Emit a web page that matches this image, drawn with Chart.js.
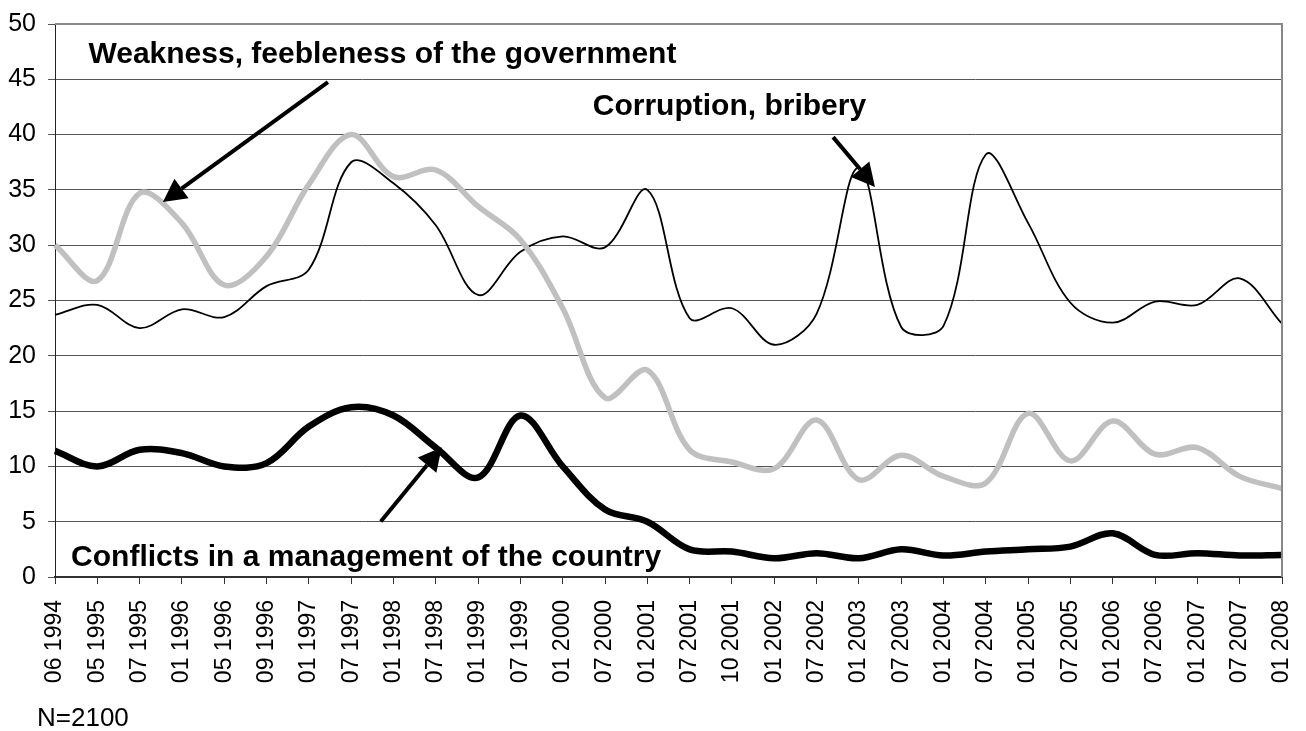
<!DOCTYPE html>
<html>
<head>
<meta charset="utf-8">
<script src="https://cdn.jsdelivr.net/npm/chart.js@4.4.0/dist/chart.umd.min.js"></script>
<style>
  body { margin: 0; background: #fff; }
  #wrap { width: 1306px; height: 731px; position: relative; }
</style>
</head>
<body>
<div id="wrap"><canvas id="chart"></canvas></div>
<script>
// survey waves (category axis)
let categories = ['06 1994', '05 1995', '07 1995', '01 1996', '05 1996', '09 1996', '01 1997', '07 1997',
  '01 1998', '07 1998', '01 1999', '07 1999', '01 2000', '07 2000', '01 2001', '07 2001', '10 2001',
  '01 2002', '07 2002', '01 2003', '07 2003', '01 2004', '07 2004', '01 2005', '07 2005', '01 2006',
  '07 2006', '01 2007', '07 2007', '01 2008'];

// % of respondents
let weakness = [30, 26.8, 34.7, 32, 26.4, 29, 35.5, 40, 36.2, 36.8, 33.5, 30.5, 24.3, 16.2, 18.7,
  11.5, 10.4, 9.8, 14.2, 8.8, 11, 9.1, 8.5, 14.8, 10.5, 14.1, 11.1, 11.7, 9.1, 8];
let corruption = [23.7, 24.6, 22.5, 24.2, 23.5, 26.3, 27.8, 37.5, 35.6, 31.8, 25.5, 29.4, 30.8, 29.8, 35,
  23.4, 24.3, 21, 23.8, 37, 22.6, 22.7, 38.2, 32, 24.8, 23, 24.9, 24.6, 27, 22.9];
let conflicts = [11.4, 10, 11.5, 11.2, 10, 10.3, 13.6, 15.35, 14.6, 11.7, 9, 14.6, 10, 6.1, 5,
  2.5, 2.3, 1.7, 2.15, 1.7, 2.5, 1.95, 2.3, 2.5, 2.75, 3.95, 2, 2.15, 1.95, 2];

let yMin = 0, yMax = 50, yStep = 5;

// callout labels, positions in data units (x = category index, y = value)
let callouts = [
  { text: 'Weakness, feebleness of the government', at: [0.79, 46.45], from: [6.45, 44.75], to: [2.55, 33.9] },
  { text: 'Corruption, bribery', at: [12.71, 41.76], from: [18.39, 39.77], to: [19.38, 35.27] },
  { text: 'Conflicts in a management of the country', at: [0.38, 0.96], from: [7.7, 5.02], to: [9.14, 11.73] }
];
let footnote = 'N=2100';

let fontFamily = '"Liberation Sans", Arial, sans-serif';

function drawArrow(ctx, x1, y1, x2, y2) {
  let ang = Math.atan2(y2 - y1, x2 - x1);
  let headLen = 23, headHalf = 12;
  let bx = x2 - headLen * Math.cos(ang), by = y2 - headLen * Math.sin(ang);
  ctx.lineWidth = 4;
  ctx.beginPath();
  ctx.moveTo(x1, y1);
  ctx.lineTo(bx, by);
  ctx.stroke();
  ctx.beginPath();
  ctx.moveTo(x2, y2);
  ctx.lineTo(bx + headHalf * Math.sin(ang), by - headHalf * Math.cos(ang));
  ctx.lineTo(bx - headHalf * Math.sin(ang), by + headHalf * Math.cos(ang));
  ctx.closePath();
  ctx.fill();
}

let calloutPlugin = {
  id: 'callouts',
  afterDraw(chart) {
    let ctx = chart.ctx, xs = chart.scales.x, ys = chart.scales.y, area = chart.chartArea;
    ctx.save();
    // plot area frame on top and right
    ctx.strokeStyle = '#888';
    ctx.lineWidth = 2;
    ctx.beginPath();
    ctx.moveTo(area.left, area.top);
    ctx.lineTo(area.right, area.top);
    ctx.lineTo(area.right, area.bottom);
    ctx.stroke();

    ctx.fillStyle = '#000';
    ctx.strokeStyle = '#000';
    ctx.font = 'bold 30px ' + fontFamily;
    ctx.textAlign = 'left';
    ctx.textBaseline = 'alphabetic';
    callouts.forEach(c => {
      ctx.fillText(c.text, xs.getPixelForValue(c.at[0]), ys.getPixelForValue(c.at[1]));
      drawArrow(ctx, xs.getPixelForValue(c.from[0]), ys.getPixelForValue(c.from[1]),
        xs.getPixelForValue(c.to[0]), ys.getPixelForValue(c.to[1]));
    });

    ctx.font = '26px ' + fontFamily;
    ctx.fillText(footnote, 37, 726);
    ctx.restore();
  }
};

let ctx = document.getElementById('chart').getContext('2d');
let chart = new Chart(ctx, {
  type: 'line',
  data: {
    labels: categories,
    datasets: [
      {
        label: 'Conflicts in a management of the country',
        data: conflicts,
        borderColor: '#000',
        borderWidth: 6.5,
        order: 0
      },
      {
        label: 'Weakness, feebleness of the government',
        data: weakness,
        borderColor: '#c0c0c0',
        borderWidth: 5.5,
        order: 1
      },
      {
        label: 'Corruption, bribery',
        data: corruption,
        borderColor: '#000',
        borderWidth: 1.8,
        order: 2
      }
    ]
  },
  options: {
    responsive: true,
    maintainAspectRatio: false,
    animation: false,
    layout: { padding: { top: 24, right: 24, left: 0, bottom: 0 } },
    elements: {
      point: { radius: 0, hoverRadius: 0 },
      line: { tension: 0.35, fill: false, borderJoinStyle: 'round' }
    },
    plugins: {
      legend: { display: false },
      tooltip: { enabled: false }
    },
    scales: {
      x: {
        offset: false,
        grid: { drawOnChartArea: false, drawTicks: true, tickLength: 7, color: '#333', lineWidth: 1 },
        border: { color: '#333', width: 2 },
        ticks: {
          autoSkip: false, maxRotation: 90, minRotation: 90, padding: 16,
          color: '#000', font: { family: fontFamily, size: 23 }
        },
        afterFit: s => { s.height = 154; s.paddingLeft = 0; s.paddingRight = 0; }
      },
      y: {
        min: yMin, max: yMax,
        grid: { color: '#555', lineWidth: 1, tickLength: 7 },
        border: { color: '#222', width: 1 },
        ticks: {
          stepSize: yStep, padding: 12,
          color: '#000', font: { family: fontFamily, size: 25 }
        },
        afterFit: s => { s.width = 55; s.paddingTop = 0; s.paddingBottom = 0; }
      }
    }
  },
  plugins: [calloutPlugin]
});
</script>
</body>
</html>
